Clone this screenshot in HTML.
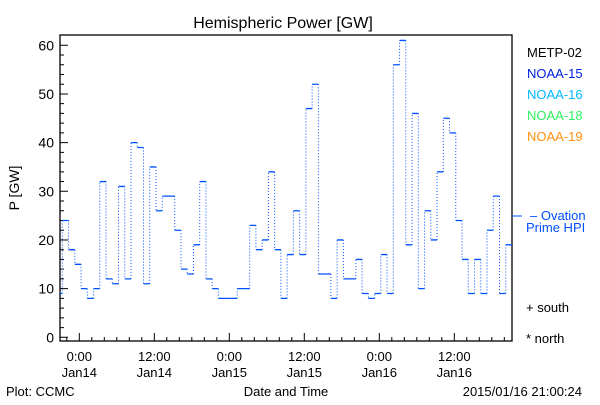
<!DOCTYPE html>
<html><head><style>
body{margin:0;background:#fff;}
svg text{font-family:"Liberation Sans",sans-serif;}
</style></head><body>
<svg id="s" width="600" height="400" xmlns="http://www.w3.org/2000/svg" font-size="13">
<rect width="600" height="400" fill="#fff"/>
<text x="283" y="28" font-size="16" text-anchor="middle">Hemispheric Power [GW]</text>
<text transform="translate(19,188) rotate(-90)" text-anchor="middle" font-size="14">P [GW]</text>
<rect x="60" y="35" width="452" height="306" fill="none" stroke="#000" stroke-width="1.3"/>
<g id="ticks" stroke="#000" stroke-width="1"></g>
<g id="yl" font-size="14" text-anchor="end"></g>
<g id="xl" font-size="13" text-anchor="middle"></g>
<g id="data"></g>
<g font-size="13">
<text x="527" y="57" fill="#000">METP-02</text>
<text x="527" y="78" fill="#0020e0">NOAA-15</text>
<text x="527" y="99" fill="#00b8ff">NOAA-16</text>
<text x="527" y="120" fill="#30f060">NOAA-18</text>
<text x="527" y="141" fill="#ff9010">NOAA-19</text>
<line x1="512" y1="216" x2="522" y2="216" stroke="#0050ff"/>
<text x="530" y="220" fill="#0050ff">– Ovation</text>
<text x="526" y="232" fill="#0050ff">Prime HPI</text>
<text x="526" y="312" fill="#000">+ south</text>
<text x="526" y="343" fill="#000">* north</text>
</g>
<text x="6" y="396" font-size="13">Plot: CCMC</text>
<text x="286" y="396" font-size="13" text-anchor="middle">Date and Time</text>
<text x="582" y="396" font-size="13" text-anchor="end">2015/01/16 21:00:24</text>
</svg>
<script>
var NS="http://www.w3.org/2000/svg";
function el(p,t,a,txt){var e=document.createElementNS(NS,t);for(var k in a)e.setAttribute(k,a[k]);if(txt)e.textContent=txt;document.getElementById(p).appendChild(e);return e;}
function Y(v){return 337.3-4.867*v;}
var d="";
for(var v=0;v<=60;v+=2){var y=Y(v);var L=(v%10==0)?8:4;d+="M60 "+y+"h"+L;
 if(v%10==0)el("yl","text",{x:54,y:y+5},String(v));}
var x0=79.3,ph=75/12;
for(var h=-2;h<=68;h+=2){var x=x0+h*ph;if(x<60||x>512)continue;var L=(h%12==0)?8:4;d+="M"+x+" 341v-"+L;}
el("ticks","path",{d:d,fill:"none"});
var labs=[["0:00","Jan14"],["12:00","Jan14"],["0:00","Jan15"],["12:00","Jan15"],["0:00","Jan16"],["12:00","Jan16"]];
for(var i=0;i<6;i++){var x=x0+i*75;el("xl","text",{x:x,y:361},labs[i][0]);el("xl","text",{x:x,y:377},labs[i][1]);}
var vals=[24,18,15,10,8,10,32,12,11,31,12,40,39,11,35,26,29,29,22,14,13,19,32,12,10,8,8,8,10,10,23,18,20,34,18,
8,17,26,17,47,52,13,13,8,20,12,12,16,9,8,9,17,9,56,61,19,46,10,26,20,34,45,42,24,16,9,16,9,22,29,9,19];
var sx=62.3,w=(512-62.3)/vals.length,hd="",vd="M"+(sx)+" "+Y(9)+"V"+Y(24);
hd+="M60 "+Y(9)+"H"+(sx);
for(var i=0;i<vals.length;i++){var a=sx+i*w,b=a+w;hd+="M"+a+" "+Y(vals[i])+"H"+b;
 if(i+1<vals.length)vd+="M"+b+" "+Y(vals[i])+"V"+Y(vals[i+1]);}
el("data","path",{d:vd,fill:"none",stroke:"#0050ff","stroke-width":1,"stroke-dasharray":"1,2"});
el("data","path",{d:hd,fill:"none",stroke:"#0050ff","stroke-width":1.3});
</script>
</body></html>
